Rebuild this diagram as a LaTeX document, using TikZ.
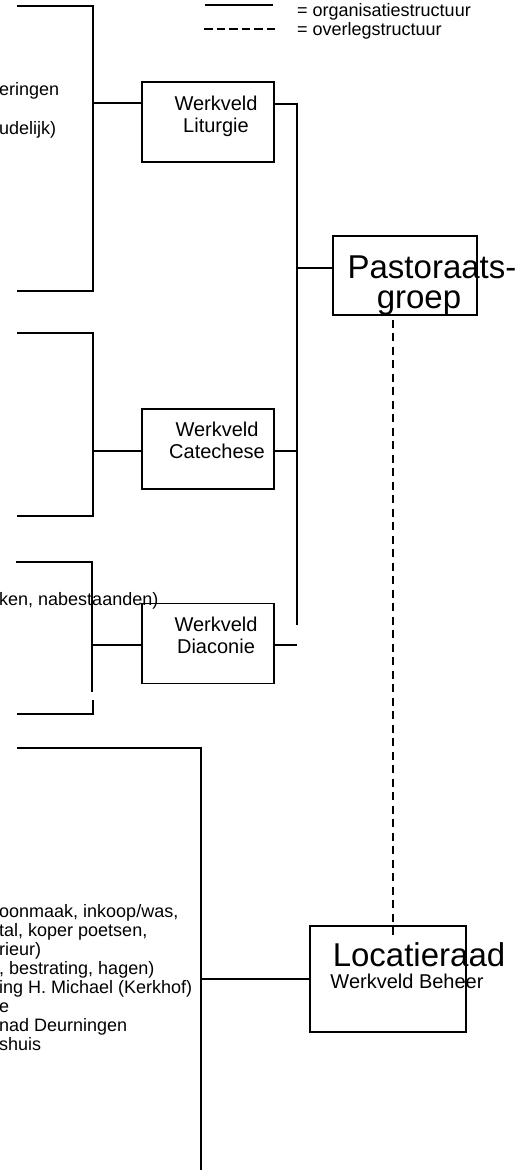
\documentclass[tikz,border=0pt]{standalone}
\usepackage{fontspec}
\setmainfont{Liberation Sans}
\usetikzlibrary{positioning}
\tikzset{>=latex}

\begin{document}
\begin{tikzpicture}[x=1pt, y=-1pt,
    org/.style={line width=1.9pt},
    overleg/.style={line width=1.4pt, dash pattern=on 8pt off 5.5pt},
    werkveld/.style={draw, line width=1.9pt, inner sep=0pt, minimum width=132pt, minimum height=80pt},
    kop/.style={inner sep=0pt, align=center, font=\fontsize{20}{22}\selectfont},
    groot/.style={inner sep=0pt, anchor=base, font=\fontsize{33}{33}\selectfont},
    lijst/.style={inner sep=0pt, anchor=base west, font=\fontsize{18}{19}\selectfont},
    legenda/.style={inner sep=0pt, anchor=base west, font=\fontsize{18}{19}\selectfont}]
    \useasboundingbox (0,0) rectangle (528,1170);

    % legenda
    \coordinate (lo1) at (205,5);
    \coordinate (lo2) at (273,5);
    \coordinate (lv1) at (204,29);
    \coordinate (lv2) at (278,29);
    \node[legenda] (legorg) at (297,16) {= organisatiestructuur};
    \node[legenda] (legov) at (297,35) {= overlegstructuur};
    \draw[org] (lo1) -- (lo2);
    \draw[org, dash pattern=on 8.5pt off 4pt] (lv1) -- (lv2);

    % taken links
    \node[lijst] (lit1) at (-1,95) {eringen};
    \node[lijst] (lit2) at (-1,134) {udelijk)};
    \node[lijst] (dia1) at (-1,605) {ken, nabestaanden)};
    \node[lijst] (beh1) at (-1,917) {oonmaak, inkoop/was,};
    \node[lijst] (beh2) at (-1,936) {tal, koper poetsen,};
    \node[lijst] (beh3) at (-1,955) {rieur)};
    \node[lijst] (beh4) at (-1,974) {, bestrating, hagen)};
    \node[lijst] (beh5) at (-1,993) {ing H. Michael (Kerkhof)};
    \node[lijst] (beh6) at (-1,1012) {e};
    \node[lijst] (beh7) at (-1,1031) {nad Deurningen};
    \node[lijst] (beh8) at (-1,1050) {shuis};

    % werkvelden
    \node[werkveld] (lit) at (208,122) {};
    \node[werkveld] (cat) at (208,449) {};
    \node[werkveld] (dia) at (208,643.5) {};
    \node[werkveld, minimum width=144pt, minimum height=79pt] (pg) at (405,275.5) {};
    \node[werkveld, minimum width=156pt, minimum height=106pt] (loc) at (388,979) {};

    \node[kop, anchor=north, below=15pt of lit.north, xshift=8pt] (litkop) {Werkveld\\Liturgie};
    \node[kop, anchor=north, below=14pt of cat.north, xshift=9pt] (catkop) {Werkveld\\Catechese};
    \node[kop, anchor=north, below=14.5pt of dia.north, xshift=8pt] (diakop) {Werkveld\\Diaconie};
    \node[groot] (pgkop1) at (432,278) {Pastoraats-};
    \node[groot] (pgkop2) at (419,308) {groep};
    \node[groot] (lockop1) at (419,966) {Locatieraad};
    \node[kop, anchor=base] (lockop2) at (407,988) {Werkveld Beheer};

    % haken links
    \coordinate (b1a) at (17,6);
    \coordinate (b1b) at (17,291);
    \coordinate (b2a) at (17,333);
    \coordinate (b2b) at (17,516);
    \coordinate (b3a) at (16,562);
    \coordinate (b3b) at (17,714);
    \coordinate (b4a) at (17,748);
    \draw[org] (b1a) -| (93,291) -- (b1b);
    \draw[org] (b2a) -| (93,516) -- (b2b);
    \draw[org] (b3a) -| (92.3,692);
    \draw[org] (93.3,700) |- (b3b);
    \draw[org] (b4a) -| (201,1172);

    \coordinate (j1) at (93,103);
    \coordinate (j2) at (93,451);
    \coordinate (j3) at (92.3,645);
    \coordinate (j4) at (201,979);
    \draw[org] (j1) -- (j1 -| lit.west);
    \draw[org] (j2) -- (j2 -| cat.west);
    \draw[org] (j3) -- (j3 -| dia.west);
    \draw[org] (j4) -- (loc.west);

    % rechts naar pastoraatsgroep
    \coordinate (r1) at (297,104);
    \coordinate (r2) at (297,451);
    \coordinate (r3) at (297,645);
    \coordinate (r4) at (297,268);
    \coordinate (rend) at (297,625);
    \draw[org] (r1 -| lit.east) -- (r1) -- (rend);
    \draw[org] (r2 -| cat.east) -- (r2);
    \draw[org] (r3 -| dia.east) -- (r3);
    \draw[org] (r4) -- (r4 -| pg.west);

    \draw[overleg] ([shift={(-12,4)}]pg.south) -- ([shift={(5,11)}]loc.north);
\end{tikzpicture}
\end{document}
